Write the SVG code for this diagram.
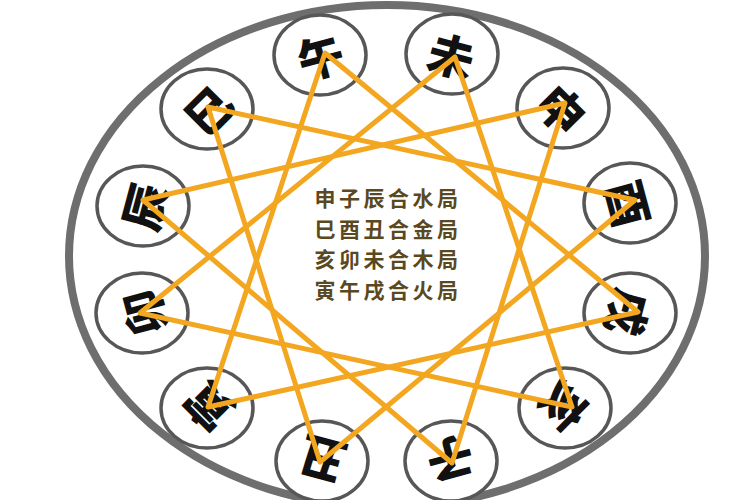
<svg xmlns="http://www.w3.org/2000/svg" width="750" height="500" viewBox="0 0 750 500">
<style>
.node ellipse { fill: #ffffff; stroke: #575757; stroke-width: 3.5; }
.glyph { font-family: "Noto Sans CJK SC", "Noto Sans CJK TC", sans-serif; font-weight: 900; font-size: 46px; fill: #111111; text-anchor: middle; dominant-baseline: central; }
.link { fill: none; stroke: #F3A620; stroke-width: 5; stroke-linejoin: round; stroke-linecap: round; }
.caption { font-family: "Noto Sans CJK SC", sans-serif; font-weight: 700; font-size: 21px; letter-spacing: 3.5px; fill: #5a4820; text-anchor: middle; }
</style>
<rect width="750" height="500" fill="#ffffff"/>
<ellipse cx="387" cy="256" rx="318" ry="251" fill="#ffffff" stroke="#6e6e6e" stroke-width="8"/>

<g id="node-wu" class="node"><ellipse cx="320" cy="55" rx="46" ry="40"/><text class="glyph" transform="translate(320,55) rotate(-15)">午</text></g>
<g id="node-wei" class="node"><ellipse cx="452" cy="54" rx="46" ry="40"/><text class="glyph" transform="translate(452,54) rotate(15)">未</text></g>
<g id="node-shen" class="node"><ellipse cx="563" cy="108" rx="46" ry="40"/><text class="glyph" transform="translate(563,108) rotate(45)">申</text></g>
<g id="node-you" class="node"><ellipse cx="630" cy="203" rx="46" ry="40"/><text class="glyph" transform="translate(630,203) rotate(75)">酉</text></g>
<g id="node-xu" class="node"><ellipse cx="630" cy="313" rx="46" ry="40"/><text class="glyph" transform="translate(630,313) rotate(105)">戌</text></g>
<g id="node-hai" class="node"><ellipse cx="565" cy="408" rx="46" ry="40"/><text class="glyph" transform="translate(565,408) rotate(135)">亥</text></g>
<g id="node-zi" class="node"><ellipse cx="451" cy="461" rx="46" ry="40"/><text class="glyph" transform="translate(451,461) rotate(165)">子</text></g>
<g id="node-chou" class="node"><ellipse cx="322" cy="461" rx="46" ry="40"/><text class="glyph" transform="translate(322,461) rotate(-165)">丑</text></g>
<g id="node-yin" class="node"><ellipse cx="207" cy="408" rx="46" ry="40"/><text class="glyph" transform="translate(207,408) rotate(-135)">寅</text></g>
<g id="node-mao" class="node"><ellipse cx="142" cy="313" rx="46" ry="40"/><text class="glyph" transform="translate(142,313) rotate(-105)">卯</text></g>
<g id="node-chen" class="node"><ellipse cx="143" cy="206" rx="46" ry="40"/><text class="glyph" transform="translate(143,206) rotate(-75)">辰</text></g>
<g id="node-si" class="node"><ellipse cx="207" cy="109" rx="46" ry="40"/><text class="glyph" transform="translate(207,109) rotate(-45)">巳</text></g>

<g id="connectors">
<polygon class="link" points="565,103 452,463 143,200"/>
<polygon class="link" points="208,107 635,200 320,462"/>
<polygon class="link" points="572,407 140,313 455,57"/>
<polygon class="link" points="208,407 325,53 638,312"/>
</g>

<g id="caption">
<text class="caption" x="388" y="206">申子辰合水局</text>
<text class="caption" x="388" y="237">巳酉丑合金局</text>
<text class="caption" x="388" y="267">亥卯未合木局</text>
<text class="caption" x="388" y="298">寅午戌合火局</text>
</g>
</svg>
